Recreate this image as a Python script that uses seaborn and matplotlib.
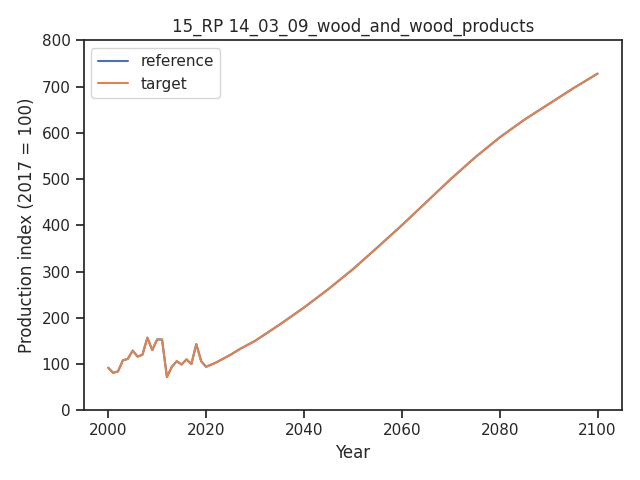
import matplotlib
matplotlib.use("Agg")
import matplotlib.pyplot as plt
import seaborn as sns
import pandas as pd

years = list(range(2000, 2021)) + [2022, 2025, 2027, 2030, 2035, 2040, 2045, 2050, 2055, 2060, 2065, 2070, 2075, 2080, 2085, 2090, 2095, 2100]
values = [92, 81, 84, 108, 111, 129, 116, 120, 157, 130, 153, 153, 72, 94, 106, 99, 110, 100, 143, 106, 94,
          103, 120, 133, 150, 185, 222, 262, 305, 352, 400, 450, 500, 547, 590, 628, 662, 696, 728]

sns.set_theme(style="ticks")
df = pd.DataFrame({"Year": years, "value": values})
fig, ax = plt.subplots(figsize=(6.4, 4.8), dpi=100)
sns.lineplot(data=df, x="Year", y="value", ax=ax, label="reference", color="#4c72b0")
sns.lineplot(data=df, x="Year", y="value", ax=ax, label="target", color="#dd8452")
ax.set_ylim(0, 800)
ax.set_ylabel("Production index (2017 = 100)")
ax.set_xlabel("Year")
ax.set_title("15_RP 14_03_09_wood_and_wood_products")
ax.legend(loc="upper left")
fig.tight_layout()
fig.savefig("out.png")
